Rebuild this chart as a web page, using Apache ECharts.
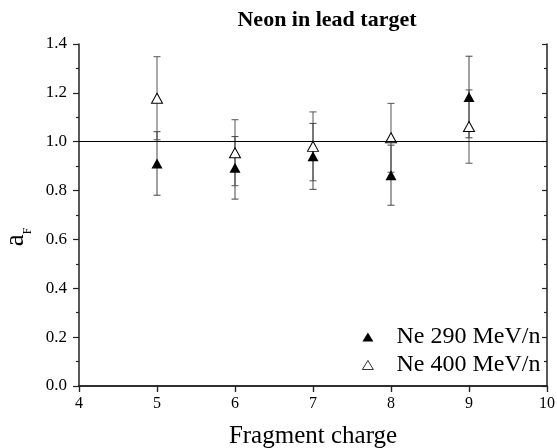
<!DOCTYPE html>
<html>
<head>
<meta charset="utf-8">
<script src="https://cdn.jsdelivr.net/npm/echarts@6/dist/echarts.min.js"></script>
<style>
html,body{margin:0;padding:0;background:#fff;}
#chart{width:557px;height:448px;}
</style>
</head>
<body>
<div id="chart"></div>
<script>
// Data
var charges = [5, 6, 7, 8, 9];
var ne290 = [0.911, 0.893, 0.940, 0.863, 1.183];
var ne290Err = [0.130, 0.128, 0.135, 0.123, 0.167];
var ne400 = [1.178, 0.955, 0.981, 1.016, 1.062];
var ne400Err = [0.170, 0.135, 0.141, 0.141, 0.150];
var yTicks = [0.0, 0.2, 0.4, 0.6, 0.8, 1.0, 1.2, 1.4];
var xTicks = [4, 5, 6, 7, 8, 9, 10];

var serif = '"Liberation Serif", "DejaVu Serif", serif';

function zip(vals, errs) {
  return charges.map(function (c, i) { return [c, vals[i], errs[i]]; });
}

function errRender(color) {
  return function (params, api) {
    var x = api.value(0), y = api.value(1), e = api.value(2);
    var t = api.coord([x, y + e]);
    var b = api.coord([x, y - e]);
    var hw = 3.5;
    var st = { stroke: color, lineWidth: 1 };
    return {
      type: 'group',
      children: [
        { type: 'line', shape: { x1: t[0], y1: t[1], x2: b[0], y2: b[1] }, style: st },
        { type: 'line', shape: { x1: t[0] - hw, y1: t[1], x2: t[0] + hw, y2: t[1] }, style: st },
        { type: 'line', shape: { x1: b[0] - hw, y1: b[1], x2: b[0] + hw, y2: b[1] }, style: st }
      ]
    };
  };
}

var axisLineStyle = { color: '#222', width: 1.5 };

var chart = echarts.init(document.getElementById('chart'), null, { renderer: 'canvas' });
chart.setOption({
  backgroundColor: '#fff',
  animation: false,
  title: {
    text: 'Neon in lead target',
    left: 327,
    top: 9,
    textAlign: 'center',
    padding: 0,
    textStyle: { fontFamily: serif, fontSize: 22, fontWeight: 'bold', color: '#000', lineHeight: 22 }
  },
  grid: { left: 79, right: 10, top: 44, bottom: 62, containLabel: false, outerBoundsMode: 'none' },
  legend: {
    orient: 'vertical',
    left: 362,
    top: 325,
    itemWidth: 11,
    itemHeight: 9,
    itemGap: 4,
    padding: 0,
    data: [
      { name: 'Ne 290 MeV/n' },
      { name: 'Ne 400 MeV/n', itemStyle: { color: '#fff', borderColor: '#000', borderWidth: 0.8 } }
    ],
    textStyle: { fontFamily: serif, fontSize: 24, color: '#000', lineHeight: 24, padding: [0, 0, 0, 18] }
  },
  xAxis: [
    {
      type: 'value', position: 'bottom', min: xTicks[0], max: xTicks[xTicks.length - 1], interval: 1,
      axisLine: { show: true, lineStyle: axisLineStyle },
      axisTick: { show: true, inside: false, length: 6, lineStyle: { color: '#222', width: 1.2 } },
      axisLabel: { fontFamily: serif, fontSize: 16, color: '#000', margin: 10 },
      splitLine: { show: false },
      name: 'Fragment charge', nameLocation: 'middle', nameGap: 38, nameMoveOverlap: false,
      nameTextStyle: { fontFamily: serif, fontSize: 25, color: '#000', lineHeight: 25 }
    },
    {
      type: 'value', position: 'top', min: xTicks[0], max: xTicks[xTicks.length - 1], interval: 1,
      axisLine: { show: true, lineStyle: axisLineStyle },
      axisTick: { show: true, inside: true, length: 6, lineStyle: { color: '#222', width: 1.2 } },
      axisLabel: { show: false },
      splitLine: { show: false }
    }
  ],
  yAxis: [
    {
      type: 'value', position: 'left', min: yTicks[0], max: yTicks[yTicks.length - 1], interval: 0.2,
      axisLine: { show: true, lineStyle: axisLineStyle },
      axisTick: { show: true, inside: false, length: 6, lineStyle: { color: '#222', width: 1.2 } },
      minorTick: { show: true, splitNumber: 2, length: 3, lineStyle: { color: '#222', width: 1.2 } },
      axisLabel: {
        fontFamily: serif, fontSize: 17, color: '#000', margin: 12,
        formatter: function (v) { return v.toFixed(1); }
      },
      splitLine: { show: false },
      name: '{a|a}{s|F}', nameLocation: 'middle', nameRotate: 90, nameGap: 45, nameMoveOverlap: false,
      nameTextStyle: {
        padding: [0, 44, 0, 0],
        rich: {
          a: { fontFamily: serif, fontSize: 27, lineHeight: 26, color: '#000', padding: [0, 0, 10, 0] },
          s: { fontFamily: serif, fontSize: 12, lineHeight: 12, color: '#000', verticalAlign: 'bottom' }
        }
      }
    },
    {
      type: 'value', position: 'right', min: yTicks[0], max: yTicks[yTicks.length - 1], interval: 0.2,
      axisLine: { show: true, lineStyle: axisLineStyle },
      axisTick: { show: true, inside: true, length: 5, lineStyle: { color: '#222', width: 1.2 } },
      minorTick: { show: true, splitNumber: 2, length: 3, lineStyle: { color: '#222', width: 1.2 } },
      axisLabel: { show: false },
      splitLine: { show: false }
    }
  ],
  series: [
    {
      name: 'err400', type: 'custom', xAxisIndex: 0, yAxisIndex: 0,
      data: zip(ne400, ne400Err), encode: { x: 0, y: 1 },
      renderItem: errRender('#555'), silent: true, z: 2
    },
    {
      name: 'err290', type: 'custom', xAxisIndex: 0, yAxisIndex: 0,
      data: zip(ne290, ne290Err), encode: { x: 0, y: 1 },
      renderItem: errRender('#444'), silent: true, z: 2
    },
    {
      name: 'Ne 400 MeV/n', type: 'scatter', xAxisIndex: 0, yAxisIndex: 0,
      data: charges.map(function (c, i) { return [c, ne400[i]]; }),
      symbol: 'triangle', symbolSize: [11, 10],
      itemStyle: { color: '#fff', borderColor: '#000', borderWidth: 1, opacity: 1 },
      z: 4,
      markLine: {
        silent: true, symbol: 'none', label: { show: false },
        lineStyle: { color: '#000', width: 1, type: 'solid' },
        data: [{ yAxis: 1.0 }]
      }
    },
    {
      name: 'Ne 290 MeV/n', type: 'scatter', xAxisIndex: 0, yAxisIndex: 0,
      data: charges.map(function (c, i) { return [c, ne290[i]]; }),
      symbol: 'triangle', symbolSize: [11, 10],
      itemStyle: { color: '#000', borderColor: '#000', borderWidth: 0, opacity: 1 },
      z: 5
    }
  ]
});
</script>
</body>
</html>
